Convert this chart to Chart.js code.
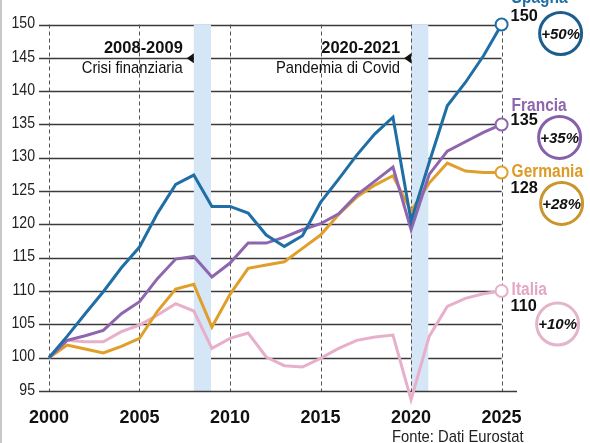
<!DOCTYPE html>
<html>
<head>
<meta charset="utf-8">
<script src="https://cdn.jsdelivr.net/npm/chart.js@4/dist/chart.umd.min.js"></script>
<style>
  html, body { margin: 0; padding: 0; background: #fff; }
  #wrap { position: relative; width: 590px; height: 443px; border-left: 2px solid #c8c8c8; box-sizing: border-box; }
  canvas { position: absolute; left: -2px; top: 0; }
</style>
</head>
<body>
<div id="wrap"><canvas id="chart" width="590" height="443"></canvas></div>
<script>
// Data (index, 2000 = 100)
const years = [2000, 2001, 2002, 2003, 2004, 2005, 2006, 2007, 2008, 2009, 2010, 2011, 2012,
  2013, 2014, 2015, 2016, 2017, 2018, 2019, 2020, 2021, 2022, 2023, 2024, 2025];
const spagna = [100, 103.2, 106.6, 109.9, 113.5, 116.6, 121.7, 126.0, 127.4, 122.7, 122.7, 121.7, 118.4,
  116.7, 118.3, 123.3, 126.8, 130.4, 133.6, 136.1, 120.5, 129.3, 137.8, 141.3, 145.3, 150];
const francia = [100, 102.6, 103.3, 104.1, 106.6, 108.4, 111.9, 114.8, 115.2, 112.1, 114.2, 117.2, 117.2,
  118.1, 119.2, 120.1, 121.6, 124.4, 126.5, 128.6, 119.2, 127.5, 131.0, 132.4, 133.8, 135];
const germania = [100, 101.9, 101.3, 100.7, 101.7, 102.9, 107.0, 110.3, 111.0, 104.6, 109.5, 113.4, 113.9,
  114.4, 116.4, 118.4, 121.5, 124.1, 125.9, 127.3, 122.0, 126.2, 129.2, 128.0, 127.8, 127.8];
const italia = [100, 102.6, 102.4, 102.4, 103.9, 104.9, 106.4, 108.1, 107.0, 101.4, 102.9, 103.7, 100.1,
  98.8, 98.6, 99.9, 101.4, 102.6, 103.1, 103.4, 93.7, 103.2, 107.7, 108.9, 109.6, 110];

const countries = ['Spagna', 'Francia', 'Germania', 'Italia'];
const endValues = ['150', '135', '128', '110'];
const growth = ['+50%', '+35%', '+28%', '+10%'];
const yTicks = [95, 100, 105, 110, 115, 120, 125, 130, 135, 140, 145, 150];
const xTicks = [2000, 2005, 2010, 2015, 2020, 2025];

// shaded periods and their notes
const periods = [[2008, 2008.95], [2020, 2020.95]];
const periodYears = ['2008-2009', '2020-2021'];
const periodNotes = ['Crisi finanziaria', 'Pandemia di Covid'];

// styles
const lineColors = ['#1f6ea6', '#8e66b0', '#e09f2a', '#e8afcb'];
const nameColors = ['#1f6ea6', '#8e66b0', '#dd9a25', '#e3a6c4'];
const ringColors = ['#1b5e8e', '#8660aa', '#c8962c', '#e2b5ca'];
// label offsets from the end point: [name dy, value dy, ring dx, ring dy]
const labelOffsets = [[-26, -8, 59, 9], [-18, -4, 58, 13], [0, 16, 60, 31], [-1, 15, 56, 33]];

const SANS = '"Liberation Sans", Arial, sans-serif';

const series = [spagna, francia, germania, italia];
const last = years.length - 1;

// no condensed face is installed, so squeeze the text horizontally
function narrowText(ctx, text, x, y, font, squeeze, align) {
  ctx.save();
  ctx.font = font;
  ctx.textAlign = align;
  ctx.textBaseline = 'middle';
  ctx.translate(x, y);
  ctx.scale(squeeze, 1);
  ctx.fillText(text, 0, 0);
  ctx.restore();
}

const datasets = series.map((values, i) => ({
  label: countries[i],
  data: values.map((v, j) => ({ x: years[j], y: v })),
  borderColor: lineColors[i],
  borderWidth: 3,
  tension: 0,
  clip: false,
  pointRadius: ctx => (ctx.dataIndex === last ? 6 : 0),
  pointBackgroundColor: '#fff',
  pointBorderColor: lineColors[i],
  pointBorderWidth: 2,
}));

// grid, shaded bands and all the text around the plot
const decorations = {
  id: 'decorations',
  beforeDatasetsDraw(chart) {
    const { ctx, scales: { x, y } } = chart;
    const top = y.getPixelForValue(150);
    const bottom = y.getPixelForValue(95);
    const left = chart.chartArea.left;
    ctx.save();

    // y tick labels (condensed)
    ctx.fillStyle = '#222';
    yTicks.forEach(v => {
      narrowText(ctx, String(v), left - 4, y.getPixelForValue(v) - 1, '17px ' + SANS, 0.83, 'right');
    });

    // horizontal lines
    ctx.strokeStyle = '#3a3a3a';
    ctx.lineWidth = 1.4;
    yTicks.forEach(v => {
      if (v === 95) return;
      const py = Math.round(y.getPixelForValue(v)) + 0.5;
      ctx.beginPath();
      ctx.moveTo(left, py);
      ctx.lineTo(x.getPixelForValue(2025), py);
      ctx.stroke();
    });

    // bands
    ctx.fillStyle = '#d5e6f7';
    periods.forEach(p => {
      const x0 = x.getPixelForValue(p[0]);
      const x1 = x.getPixelForValue(p[1]);
      ctx.fillRect(x0, top, x1 - x0, bottom - top);
    });

    // vertical dashed lines
    ctx.strokeStyle = '#555';
    ctx.lineWidth = 1;
    ctx.setLineDash([4, 3]);
    xTicks.forEach(v => {
      const px = Math.round(x.getPixelForValue(v)) + 0.5;
      ctx.beginPath();
      ctx.moveTo(px, top);
      ctx.lineTo(px, bottom);
      ctx.stroke();
    });
    ctx.setLineDash([]);

    // bottom axis line
    ctx.strokeStyle = '#3a3a3a';
    ctx.lineWidth = 1.4;
    const by = Math.round(bottom) + 0.5;
    ctx.beginPath();
    ctx.moveTo(left, by);
    ctx.lineTo(chart.chartArea.right, by);
    ctx.stroke();

    // period notes with small arrows
    periods.forEach((p, i) => {
      const tip = x.getPixelForValue(p[0]) - 7;
      const ay = y.getPixelForValue(145) + 0.5;
      ctx.fillStyle = '#111';
      ctx.beginPath();
      ctx.moveTo(tip, ay);
      ctx.lineTo(tip + 7, ay - 5);
      ctx.lineTo(tip + 7, ay + 5);
      ctx.closePath();
      ctx.fill();
      narrowText(ctx, periodYears[i], tip - 4, ay - 10, 'bold 17px ' + SANS, 0.97, 'right');
      narrowText(ctx, periodNotes[i], tip - 4, ay + 10, '17px ' + SANS, 0.87, 'right');
    });
    ctx.restore();
  },
  afterDraw(chart) {
    const { ctx, scales: { x, y } } = chart;
    ctx.save();
    series.forEach((values, i) => {
      const ex = x.getPixelForValue(years[last]) + 9;
      const ey = y.getPixelForValue(values[last]);
      const o = labelOffsets[i];
      ctx.fillStyle = nameColors[i];
      narrowText(ctx, countries[i], ex + 1, ey + o[0], 'bold 18px ' + SANS, 0.86, 'left');
      ctx.fillStyle = '#111';
      narrowText(ctx, endValues[i], ex, ey + o[1], 'bold 17px ' + SANS, 0.96, 'left');

      // ring with the growth
      const cx = ex + o[2] - 9;
      const cy = ey + o[3];
      ctx.beginPath();
      ctx.arc(cx, cy, 21, 0, Math.PI * 2);
      ctx.fillStyle = '#fff';
      ctx.fill();
      ctx.lineWidth = 3;
      ctx.strokeStyle = ringColors[i];
      ctx.stroke();
      ctx.fillStyle = '#111';
      narrowText(ctx, growth[i], cx, cy + 1, 'italic bold 15px ' + SANS, 1, 'center');
    });

    // source
    ctx.fillStyle = '#222';
    narrowText(ctx, 'Fonte: Dati Eurostat', 392, 437, '17px ' + SANS, 0.87, 'left');
    ctx.restore();
  }
};

new Chart(document.getElementById('chart'), {
  type: 'line',
  data: { datasets: datasets },
  options: {
    responsive: false,
    animation: false,
    layout: { padding: { top: 24.5, right: 73, bottom: 0, left: 0 } },
    plugins: { legend: { display: false }, tooltip: { enabled: false } },
    scales: {
      x: {
        type: 'linear',
        min: 1999.45,
        max: 2025.85,
        afterBuildTicks: s => { s.ticks = xTicks.map(v => ({ value: v })); },
        afterFit: s => { s.height = 52; },
        grid: { display: false },
        border: { display: false },
        ticks: {
          color: '#111',
          padding: 8,
          maxRotation: 0,
          font: { family: SANS, size: 18, weight: 'bold' },
          callback: v => String(v),
        },
      },
      y: {
        min: 95,
        max: 150,
        afterBuildTicks: s => { s.ticks = yTicks.map(v => ({ value: v })); },
        afterFit: s => { s.width = 39; },
        grid: { display: false },
        border: { display: false },
        ticks: { display: false },
      },
    },
  },
  plugins: [decorations],
});
</script>
</body>
</html>
